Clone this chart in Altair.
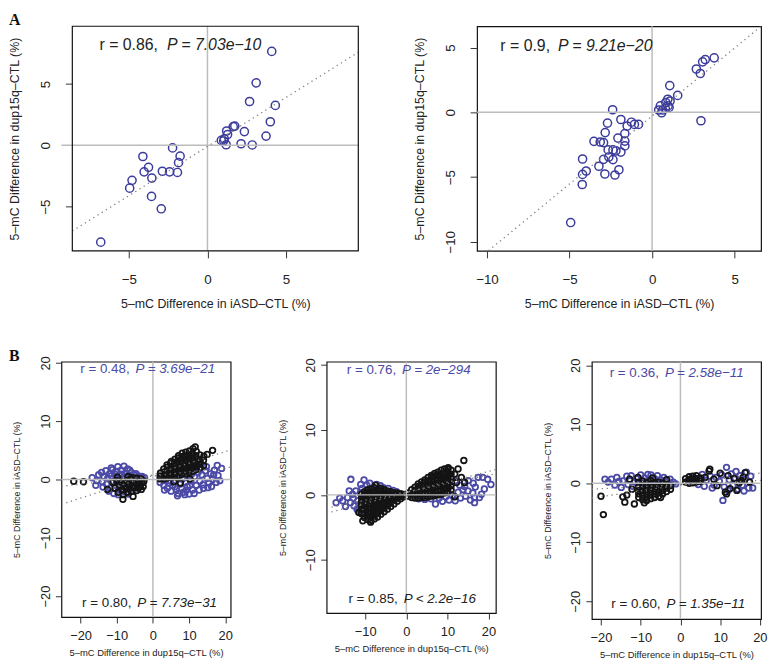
import altair as alt
import pandas as pd

BLUE_A = "#3b3b9c"
BLUE_B = "#4b4aa6"
BLACK = "#141414"
FONT = "Liberation Sans"

# ---------------- Panel A (left) ----------------
a1_x = [4.09, 3.10, 2.68, 4.32, 4.00, 3.73, 2.85, 2.14, 2.35, 1.74, 1.64, 1.22, 1.28, 1.07, 0.88, 1.03,
        1.19, -2.22, -1.74, -1.84, -1.91, -2.41, -2.87, -2.94, -3.75, -3.54, -3.56, -4.03, -4.11, -4.80,
        -4.95, -6.79]
a1_y = [7.65, 5.09, 3.57, 3.25, 1.92, 0.75, 0.03, 0.13, 1.12, 1.57, 1.52, 1.17, 0.88, 0.53, 0.40, 0.37,
        0.05, -0.21, -0.88, -1.41, -2.21, -2.16, -2.11, -5.17, -1.79, -2.67, -4.16, -2.16, -0.91, -2.85,
        -3.49, -7.89]

# ---------------- Panel A (right) ----------------
a2_x = [3.76, 3.22, 3.06, 2.68, 2.92, 2.96, 1.55, 1.07, 1.09, 0.95, 0.83, 0.97, 0.80, 0.64, 0.50, 0.40,
        0.58, 1.03, -2.39, -2.70, -1.89, -1.25, -1.07, -0.82, -1.51, -2.84, -1.65, -2.07, -1.65, -1.65,
        -3.52, -3.14, -2.94, -2.66, -2.37, -2.19, -1.89, -2.62, -2.94, -2.37, -4.21, -3.22, -3.99, -4.21,
        -2.86, -2.25, -2.01, -4.23, -4.93]
a2_y = [4.21, 4.08, 3.90, 3.35, 3.00, -0.65, 1.31, 2.07, 0.88, 1.01, 0.76, 0.50, 0.30, 0.18, 0.50, 0.18,
        -0.03, 0.38, 0.20, -0.83, -0.55, -0.76, -0.93, -0.93, -1.06, -1.56, -1.64, -1.99, -2.22, -2.59,
        -2.24, -2.29, -2.34, -2.90, -2.90, -2.97, -3.07, -3.45, -3.63, -3.65, -3.60, -4.16, -4.53, -4.79,
        -4.76, -4.84, -4.43, -5.57, -8.51]

# ---------------- Panel B (left) ----------------
b1_blue = [(-16.8, 0.3), (-15.8, -1.0), (-15.5, -0.2), (-15.0, 0.8), (-14.2, 1.2), (-14.0, -0.4),
           (-13.8, -1.3), (-13.5, 0.5), (-13.0, 1.5), (-12.8, -0.8), (-12.5, 0.2), (-12.2, -2.0),
           (-12.0, 1.0), (-11.8, -1.5), (-11.5, 0.6), (-11.5, 2.0), (-11.2, 1.7), (-11.0, -0.3),
           (-10.8, -2.4), (-10.5, 0.9), (-10.3, -1.0), (-10.0, 1.4), (-9.8, 0.1), (-9.7, 2.2),
           (-9.6, -2.6), (-9.5, -1.8), (-9.2, 0.7), (-9.0, -0.6), (-8.8, 1.6), (-8.6, 0.9), (-8.5, -2.0),
           (-8.3, 0.3), (-8.0, 2.3), (-7.8, -1.2), (-7.5, 0.9), (-7.4, -2.2), (-7.2, -0.2), (-7.0, 1.8),
           (-6.8, -2.5), (-6.5, 0.5), (-6.4, 1.6), (-6.2, -0.8), (-6.0, 1.2), (-5.8, -2.0), (-5.7, 0.0),
           (-5.5, -1.5), (-5.2, 0.8), (-5.0, -0.5), (-4.7, 1.0), (-4.5, 0.2), (-4.2, -1.0), (-4.0, 0.6),
           (-3.7, -0.3), (-3.5, 0.4), (-3.2, -0.1), (-3.0, 0.5), (-2.7, 0.1), (-2.3, 0.3),
           (2.0, -0.5), (2.5, 0.3), (3.0, -1.0), (3.2, -1.8), (3.5, -0.2), (3.8, 0.4), (4.0, -1.5),
           (4.5, -0.6), (4.8, -0.2), (5.0, -2.0), (5.2, 0.6), (5.5, -1.0), (6.0, -0.3), (6.2, -1.2),
           (6.5, -1.7), (6.8, -2.8), (7.0, -2.4), (7.2, 0.2), (7.5, -0.8), (8.0, -1.5), (8.2, 0.1),
           (8.5, -2.2), (8.8, -2.6), (9.0, -0.5), (9.2, -1.9), (9.5, -1.2), (9.6, 0.6), (10.0, -2.5),
           (10.2, -1.0), (10.5, -0.2), (10.8, 1.0), (11.0, -1.8), (11.4, -2.4), (11.5, 0.5), (12.0, -1.0),
           (12.0, 2.2), (12.5, 1.2), (12.8, -1.8), (13.0, -0.3), (13.2, 2.6), (13.5, 0.8), (13.8, -0.9),
           (14.0, -1.5), (14.5, 1.5), (14.8, 2.2), (15.0, 0.2), (15.2, -1.4), (15.5, -0.6), (16.0, 1.0),
           (16.2, -1.2), (16.5, 0.0), (16.8, 0.8), (17.0, 1.6), (17.5, -0.5), (17.8, 2.4), (18.0, 0.7),
           (18.5, -0.2), (19.0, 1.9)]
b1_black = [(-21.9, -0.3), (-19.2, -0.4), (-12.6, -1.7), (-11.0, -0.5), (-10.5, -1.5), (-10.0, -0.2),
            (-9.8, 0.4), (-9.6, -2.2), (-9.2, -1.0), (-8.8, -0.4), (-8.5, -1.8), (-8.3, -3.4),
            (-8.2, -2.6), (-8.0, -1.2), (-7.8, -0.6), (-7.4, -1.6), (-7.2, -0.2), (-7.0, -2.2),
            (-6.9, 0.5), (-6.7, -0.9), (-6.5, -1.5), (-6.2, 0.1), (-6.0, -2.0), (-5.8, -1.1), (-5.6, 0.3),
            (-5.5, -0.5), (-5.5, -2.9), (-5.0, -1.4), (-4.8, -0.3), (-4.5, -1.9), (-4.4, 0.2), (-4.2, -0.8),
            (-4.0, -1.5), (-3.8, -0.4), (-3.5, -1.1), (-3.3, 0.1), (-3.2, -1.7), (-3.0, -0.6), (-2.7, -1.2),
            (-2.5, -0.3),
            (2.0, 0.1), (2.0, 0.6), (2.1, 1.1), (3.0, 0.1), (3.0, 0.7), (3.1, 1.3), (3.0, 1.8),
            (4.0, 0.3), (4.0, 0.9), (4.1, 1.5), (4.0, 2.1), (3.9, 2.5),
            (5.0, 0.4), (5.0, 1.0), (5.1, 1.6), (5.0, 2.2), (4.9, 2.8), (5.1, 3.1),
            (6.0, 0.5), (6.0, 1.1), (6.1, 1.7), (6.0, 2.3), (5.9, 2.9), (6.1, 3.5),
            (7.0, 0.7), (7.0, 1.3), (7.1, 1.9), (7.0, 2.5), (6.9, 3.1), (7.0, 3.7), (7.1, 4.1),
            (8.0, 0.9), (8.0, 1.5), (8.1, 2.1), (8.0, 2.7), (7.9, 3.3), (8.0, 3.9), (8.1, 4.5),
            (9.0, 1.0), (9.0, 1.6), (9.1, 2.2), (9.0, 2.8), (8.9, 3.4), (9.0, 4.0), (9.1, 4.7),
            (10.0, 1.2), (10.0, 1.8), (10.1, 2.4), (10.0, 3.0), (9.9, 3.6), (10.0, 4.2), (10.1, 4.9),
            (11.0, 1.4), (11.0, 2.0), (11.1, 2.6), (11.0, 3.2), (10.9, 3.8), (11.0, 4.4), (11.1, 5.3),
            (12.0, 1.7), (12.0, 2.3), (12.1, 2.9), (12.0, 3.5), (11.9, 4.1), (12.0, 4.8),
            (13.0, 2.0), (13.0, 2.8), (13.1, 3.4), (13.0, 4.2), (14.0, 2.4), (14.0, 3.3), (14.1, 4.0),
            (16.5, 5.0), (11.7, 5.6), (15.0, 4.3), (7.6, -0.6), (10.2, 0.1), (5.8, -0.4)]

# ---------------- Panel B (middle) ----------------
b2_blue = [(-17.1, -1.2), (-16.2, -0.5), (-15.5, -0.9), (-14.8, -1.8), (-14.3, -0.4), (-13.9, 0.6),
           (-13.6, -1.2), (-13.5, 2.4), (-13.1, 0.1), (-12.9, -0.5), (-12.7, -1.7), (-12.3, 0.6),
           (-12.0, -2.2), (-11.8, -0.9), (-11.7, -2.6), (-11.5, -1.5), (-11.2, 0.3), (-11.1, 1.6),
           (-10.8, 1.0), (-10.4, -0.3), (-10.3, 2.3), (-9.9, -1.3), (-9.6, 1.5), (-8.9, 1.8), (-7.2, 1.6),
           (-6.3, 1.4), (-5.6, 1.1), (-4.4, 1.0), (-3.2, 0.7), (-2.4, 0.5),
           (3.0, -0.6), (4.5, -0.7), (6.0, -0.6), (7.1, -1.4), (8.0, -0.5), (8.8, -1.0), (9.6, -0.3),
           (10.4, -0.8), (11.2, -0.1), (11.9, -0.9), (12.0, 2.2), (12.6, 0.4), (13.0, 1.5), (13.2, -0.5),
           (13.8, 0.8), (14.2, 1.3), (14.4, -0.2), (15.0, 0.6), (15.1, 2.2), (15.6, -0.8), (16.2, 0.3),
           (16.3, 1.8), (16.6, -1.2), (16.6, -0.4), (16.8, 1.2), (17.5, 2.7), (17.8, -0.4), (18.3, 0.1),
           (18.6, 2.7), (19.0, 0.9), (19.8, 2.4), (20.6, 1.6)]
b2_black = [(-11.5, -2.7), (-10.6, -4.0), (-8.7, -4.2), (-7.5, 1.5),
            (-10.9, -2.9), (-10.9, -2.2), (-10.9, -1.6), (-10.9, -1.0), (-10.9, -0.4), (-10.9, 0.1),
            (-10.2, -3.5), (-10.2, -2.9), (-10.2, -2.3), (-10.2, -1.7), (-10.2, -1.1), (-10.2, -0.5),
            (-10.2, 0.1), (-10.2, 0.5),
            (-9.4, -3.8), (-9.4, -3.2), (-9.4, -2.6), (-9.4, -2.0), (-9.4, -1.4), (-9.4, -0.8),
            (-9.4, -0.2), (-9.4, 0.4), (-9.4, 0.8),
            (-8.6, -3.9), (-8.6, -3.3), (-8.6, -2.7), (-8.6, -2.1), (-8.6, -1.5), (-8.6, -0.9),
            (-8.6, -0.3), (-8.6, 0.3), (-8.6, 0.9),
            (-7.8, -3.7), (-7.8, -3.1), (-7.8, -2.5), (-7.8, -1.9), (-7.8, -1.3), (-7.8, -0.7),
            (-7.8, -0.1), (-7.8, 0.5), (-7.8, 1.1),
            (-7.0, -3.4), (-7.0, -2.8), (-7.0, -2.2), (-7.0, -1.6), (-7.0, -1.0), (-7.0, -0.4),
            (-7.0, 0.2), (-7.0, 0.8),
            (-6.2, -3.0), (-6.2, -2.4), (-6.2, -1.8), (-6.2, -1.2), (-6.2, -0.6), (-6.2, 0.0),
            (-6.2, 0.6), (-6.2, 1.0),
            (-5.4, -2.6), (-5.4, -2.0), (-5.4, -1.4), (-5.4, -0.8), (-5.4, -0.2), (-5.4, 0.4), (-5.4, 0.8),
            (-4.6, -2.2), (-4.6, -1.6), (-4.6, -1.0), (-4.6, -0.4), (-4.6, 0.2), (-4.6, 0.6),
            (-3.8, -1.8), (-3.8, -1.2), (-3.8, -0.6), (-3.8, 0.0), (-3.8, 0.5),
            (-3.0, -1.4), (-3.0, -0.8), (-3.0, -0.2), (-3.0, 0.3),
            (-2.2, -1.0), (-2.2, -0.5), (-2.2, 0.0), (-2.2, 0.3),
            (-1.4, -0.6), (-1.4, -0.2), (-1.4, 0.2), (-0.7, -0.3), (-0.7, 0.05),
            (0.5, -0.2), (0.5, 0.3), (1.3, -0.4), (1.3, 0.2), (1.3, 0.8),
            (2.1, -0.5), (2.1, 0.1), (2.1, 0.7), (2.1, 1.2),
            (2.9, -0.5), (2.9, 0.1), (2.9, 0.7), (2.9, 1.3), (2.9, 1.7),
            (3.7, -0.4), (3.7, 0.2), (3.7, 0.8), (3.7, 1.4), (3.7, 2.0),
            (4.5, -0.4), (4.5, 0.2), (4.5, 0.8), (4.5, 1.4), (4.5, 2.0), (4.5, 2.3),
            (5.3, -0.3), (5.3, 0.3), (5.3, 0.9), (5.3, 1.5), (5.3, 2.1), (5.3, 2.7),
            (6.1, -0.2), (6.1, 0.4), (6.1, 1.0), (6.1, 1.6), (6.1, 2.2), (6.1, 2.8), (6.1, 3.0),
            (6.9, -0.1), (6.9, 0.5), (6.9, 1.1), (6.9, 1.7), (6.9, 2.3), (6.9, 2.9), (6.9, 3.3),
            (7.7, 0.0), (7.7, 0.6), (7.7, 1.2), (7.7, 1.8), (7.7, 2.4), (7.7, 3.0), (7.7, 3.5),
            (8.5, 0.1), (8.5, 0.7), (8.5, 1.3), (8.5, 1.9), (8.5, 2.5), (8.5, 3.1), (8.5, 3.8),
            (9.3, 0.3), (9.3, 0.9), (9.3, 1.5), (9.3, 2.1), (9.3, 2.7), (9.3, 3.3), (9.3, 4.0),
            (10.1, 0.5), (10.1, 1.1), (10.1, 1.7), (10.1, 2.3), (10.1, 2.9), (10.1, 3.5), (10.1, 4.0),
            (10.9, 0.8), (10.9, 1.4), (10.9, 2.0), (10.9, 2.6), (10.9, 3.2), (10.9, 3.8),
            (14.0, 5.3), (10.2, 4.2), (12.6, 4.0), (11.8, 3.2), (13.4, 2.7), (12.2, 1.9), (14.2, 1.9),
            (11.8, -0.3)]

# ---------------- Panel B (right) ----------------
b3_blue = [(-19.0, 0.7), (-18.2, 0.2), (-17.4, 0.7), (-16.5, -0.3), (-16.0, 1.0), (-15.5, 0.3),
           (-14.9, -0.7), (-14.5, 0.4), (-13.5, 1.2), (-13.2, -0.2), (-12.4, 1.3), (-12.0, -0.5),
           (-11.5, 0.2), (-11.0, 0.8), (-10.4, -0.6), (-10.0, 1.4), (-9.6, 0.2), (-9.0, 0.9), (-8.2, 1.5),
           (-8.0, 0.4), (-7.4, 1.4), (-7.0, -0.4), (-6.5, 0.8), (-6.0, 0.2), (-5.8, 1.3), (-5.0, 0.6),
           (-4.5, -0.3), (-4.2, 1.0), (-3.4, 0.5), (-2.6, 0.7), (-1.8, 0.2), (-1.2, -0.1),
           (2.0, 0.4), (3.5, 0.9), (4.5, -0.2), (5.5, 1.5), (6.0, -0.5), (6.5, 0.5), (7.5, 1.2),
           (8.0, -0.8), (8.5, -0.3), (9.0, 1.0), (9.8, 0.3), (10.4, 1.4), (10.7, -2.9), (11.0, -0.6),
           (11.6, 2.7), (12.0, -1.2), (12.3, 0.6), (12.8, 1.6), (13.2, -0.4), (13.8, 0.9), (14.0, 2.0),
           (14.5, -1.0), (15.0, 1.3), (15.6, -0.3), (16.0, -1.3), (16.2, 0.6), (16.6, 1.9), (17.2, -0.8),
           (17.7, 1.2), (18.2, -0.8)]
b3_black = [(-19.4, -5.3), (-20.0, -2.2), (-14.5, -2.3), (-14.0, -3.2), (-13.5, -2.0), (-12.2, -1.0),
            (-11.6, -3.5), (-9.1, -3.3), (-5.0, -2.4), (-12.8, 0.7), (-10.7, 1.0), (-7.0, 0.9), (-3.5, 0.6),
            (-10.5, -2.4), (-10.5, -1.8), (-10.5, -1.2), (-10.5, -0.6), (-10.5, 0.2),
            (-9.5, -2.8), (-9.5, -2.2), (-9.5, -1.6), (-9.5, -1.0), (-9.5, -0.4), (-9.5, 0.4),
            (-8.5, -2.9), (-8.5, -2.3), (-8.5, -1.7), (-8.5, -1.1), (-8.5, -0.5), (-8.5, 0.1),
            (-7.5, -2.6), (-7.5, -2.0), (-7.5, -1.4), (-7.5, -0.8), (-7.5, -0.2), (-7.5, 0.5),
            (-6.5, -2.4), (-6.5, -1.8), (-6.5, -1.2), (-6.5, -0.6), (-6.5, 0.0),
            (-5.5, -2.2), (-5.5, -1.6), (-5.5, -1.0), (-5.5, -0.4), (-5.5, 0.2),
            (-4.5, -1.8), (-4.5, -1.2), (-4.5, -0.6), (-4.5, 0.0),
            (-3.5, -1.4), (-3.5, -0.8), (-3.5, -0.2), (-2.5, -1.0), (-2.5, -0.4),
            (1.3, 0.2), (1.3, 0.8), (2.2, 0.0), (2.2, 0.6), (2.2, 1.1), (3.1, 0.1), (3.1, 0.6), (3.1, 1.2),
            (4.0, 0.2), (4.0, 0.8), (4.0, 1.3), (5.0, 0.3), (5.1, 0.7), (5.0, 0.9),
            (6.2, 1.0), (7.2, 2.1), (7.4, 2.4), (8.4, 0.7), (9.2, -0.4), (10.0, 1.7), (11.3, -1.5),
            (11.6, -1.8), (12.0, 1.3), (12.5, -0.9), (13.5, 0.8), (14.2, -1.2), (14.8, 0.1), (15.4, 0.45),
            (15.8, 1.0), (16.3, 1.8), (17.4, 0.2)]

# fitted lines (slope, intercept)
a1_fit = [(0.80, -0.10)]
a2_fit = [(1.05, -0.28)]
b1_fit = [(0.20, 0.80), (0.07, 0.60)]
b2_fit = [(0.163, 0.35), (0.129, 0.46)]
b3_fit = [(0.10, -0.28), (0.035, -0.22)]

X_A = "5\u2013mC Difference in iASD\u2013CTL (%)"
Y_A = "5\u2013mC Difference in dup15q\u2013CTL (%)"
X_B = "5\u2013mC Difference in dup15q\u2013CTL (%)"
Y_B = "5\u2013mC Difference in iASD\u2013CTL (%)"

AX_A = dict(ts=7, lfs=13.5, xlp=15, xtp=12, xtfs=12.5, ylp=13, ytp=17, ytfs=12.5)
AX_B = dict(ts=6, lfs=13, xlp=7, xtp=5, xtfs=9.5, ylp=3, ytp=18, ytfs=9)


def pts(pairs):
    return pd.DataFrame({"x": [p[0] for p in pairs], "y": [p[1] for p in pairs]})


def panel(layers_pts, xdom, ydom, xticks, yticks, w, h, fits, notes, ax, xt, yt,
          letter=None, lpos=(0, 0), msize=45, msw=1.3, lead=0, gap=(2, 4)):
    # lead: empty pixels kept to the left of the plot box inside the cell
    xscale = alt.Scale(domain=xdom, nice=False, zero=False)
    if lead:
        xscale = alt.Scale(domain=xdom, nice=False, zero=False, range=[lead, w + lead])
    X = alt.X("x:Q", scale=xscale,
              axis=alt.Axis(values=xticks, title=xt, tickSize=ax["ts"], labelPadding=ax["xlp"],
                            titlePadding=ax["xtp"], labelFontSize=ax["lfs"], titleFontSize=ax["xtfs"],
                            format="d"))
    Y = alt.Y("y:Q", scale=alt.Scale(domain=ydom, nice=False, zero=False),
              axis=alt.Axis(values=yticks, title=yt, tickSize=ax["ts"], labelPadding=ax["ylp"],
                            titlePadding=ax["ytp"], labelFontSize=ax["lfs"], titleFontSize=ax["ytfs"],
                            labelAngle=-90, labelAlign="center", labelBaseline="bottom", format="d",
                            offset=-lead))
    layers = []
    for df, col in layers_pts:
        layers.append(alt.Chart(df).mark_point(shape="circle", filled=False, size=msize,
                                               strokeWidth=msw, color=col, opacity=1)
                      .encode(x=X, y=Y))
    layers.append(alt.Chart(pd.DataFrame({"x": [0]})).mark_rule(color="#bcbcbc", strokeWidth=1.5)
                  .encode(x=X))
    layers.append(alt.Chart(pd.DataFrame({"y": [0]})).mark_rule(color="#bcbcbc", strokeWidth=1.5)
                  .encode(y=Y))
    rows = []
    for i, (m, b) in enumerate(fits):
        for xv in xdom:
            rows.append({"x": xv, "y": m * xv + b, "g": i})
    layers.append(alt.Chart(pd.DataFrame(rows)).mark_line(color="#808080", strokeDash=[1.3, 3.7],
                                                          strokeWidth=1.3, clip=True)
                  .encode(x=X, y=Y, detail="g:N"))
    for (xv, yv, t1, t2, col, fs) in notes:
        d = pd.DataFrame({"x": [xv], "y": [yv], "t1": [t1], "t2": [t2]})
        layers.append(alt.Chart(d).mark_text(align="right", baseline="middle", dx=-gap[0], fontSize=fs,
                                             font=FONT, color=col).encode(x=X, y=Y, text="t1:N"))
        layers.append(alt.Chart(d).mark_text(align="left", baseline="middle", dx=gap[1], fontSize=fs,
                                             font=FONT, fontStyle="italic", color=col)
                      .encode(x=X, y=Y, text="t2:N"))
    if letter:
        layers.append(alt.Chart(pd.DataFrame({"t": [letter]}))
                      .mark_text(align="left", baseline="top", font="Liberation Serif",
                                 fontWeight="bold", fontSize=16, color="#111")
                      .encode(text="t:N", x=alt.value(lpos[0] + lead), y=alt.value(lpos[1])))
    if lead:
        layers.append(alt.Chart(pd.DataFrame({"b": [0]}))
                      .mark_rect(fillOpacity=0, stroke="#111", strokeWidth=1.2)
                      .encode(x=alt.value(lead), x2=alt.value(w + lead),
                              y=alt.value(0), y2=alt.value(h)))
        return alt.layer(*layers).properties(width=w + lead, height=h,
                                             view=alt.ViewBackground(stroke="transparent"))
    return alt.layer(*layers).properties(width=w, height=h)


a1 = panel([(pd.DataFrame({"x": a1_x, "y": a1_y}), BLUE_A)], [-8.6, 9.6], [-8.6, 9.7],
           [-5, 0, 5], [-5, 0, 5], 289, 227, a1_fit,
           [(-2.96, 8.2, "r = 0.86,", "P = 7.03e\u221210", "#222", 16)],
           AX_A, X_A, Y_A, letter="A", lpos=(-64, -14), msize=68, msw=1.5, lead=11, gap=(3, 6))
a2 = panel([(pd.DataFrame({"x": a2_x, "y": a2_y}), BLUE_A)], [-10.6, 6.6], [-10.7, 6.65],
           [-10, -5, 0, 5], [-10, -5, 0, 5], 287, 227, a2_fit,
           [(-6.0, 5.15, "r = 0.9,", "P = 9.21e\u221220", "#222", 16)],
           AX_A, X_A, Y_A, msize=68, msw=1.5, gap=(3, 5))

b1 = panel([(pts(b1_blue), BLUE_B), (pts(b1_black), BLACK)], [-25.3, 21.5], [-23.6, 20.2],
           [-20, -10, 0, 10, 20], [-20, -10, 0, 10, 20], 171, 258, b1_fit,
           [(-5.9, 19.0, "r = 0.48,", "P = 3.69e\u221221", BLUE_B, 13.5),
            (-5.4, -21.2, "r = 0.80,", "P = 7.73e\u221231", "#222", 13.5)],
           AX_B, X_B, Y_B, letter="B", lpos=(-53, -14), msize=32, msw=1.8)
b2 = panel([(pts(b2_blue), BLUE_B), (pts(b2_black), BLACK)], [-19.4, 21.8], [-18.2, 20.5],
           [-10, 0, 10, 20], [-10, 0, 10, 20], 171, 254, b2_fit,
           [(-2.0, 19.2, "r = 0.76,", "P = 2e\u2212294", BLUE_B, 13.5),
            (-1.6, -16.05, "r = 0.85,", "P < 2.2e\u221216", "#222", 13.5)],
           AX_B, X_B, Y_B, msize=32, msw=1.8)
b3 = panel([(pts(b3_blue), BLUE_B), (pts(b3_black), BLACK)], [-22.3, 20.3], [-23.0, 20.6],
           [-20, -10, 0, 10, 20], [-20, -10, 0, 10, 20], 171, 260, b3_fit,
           [(-4.9, 18.6, "r = 0.36,", "P = 2.58e\u221211", BLUE_B, 13.5),
            (-4.5, -20.5, "r = 0.60,", "P = 1.35e\u221211", "#222", 13.5)],
           AX_B, X_B, Y_B, msize=32, msw=1.8)

rowA = alt.hconcat(a1, a2, spacing=120, bounds="flush")
rowB = alt.hconcat(b1, b2, b3, spacing=97, bounds="flush")

chart = (alt.vconcat(rowA, rowB, spacing=36)
         .properties(padding=0)
         .configure_view(stroke="#111", strokeWidth=1.2)
         .configure_axis(grid=False, domain=False, tickColor="#333", tickWidth=1,
                         labelColor="#222", titleColor="#222", labelFont=FONT, titleFont=FONT,
                         titleFontWeight="normal", labelFlush=False, labelOverlap=False))

chart.save("out.html", embed_options={"renderer": "svg", "actions": False})
